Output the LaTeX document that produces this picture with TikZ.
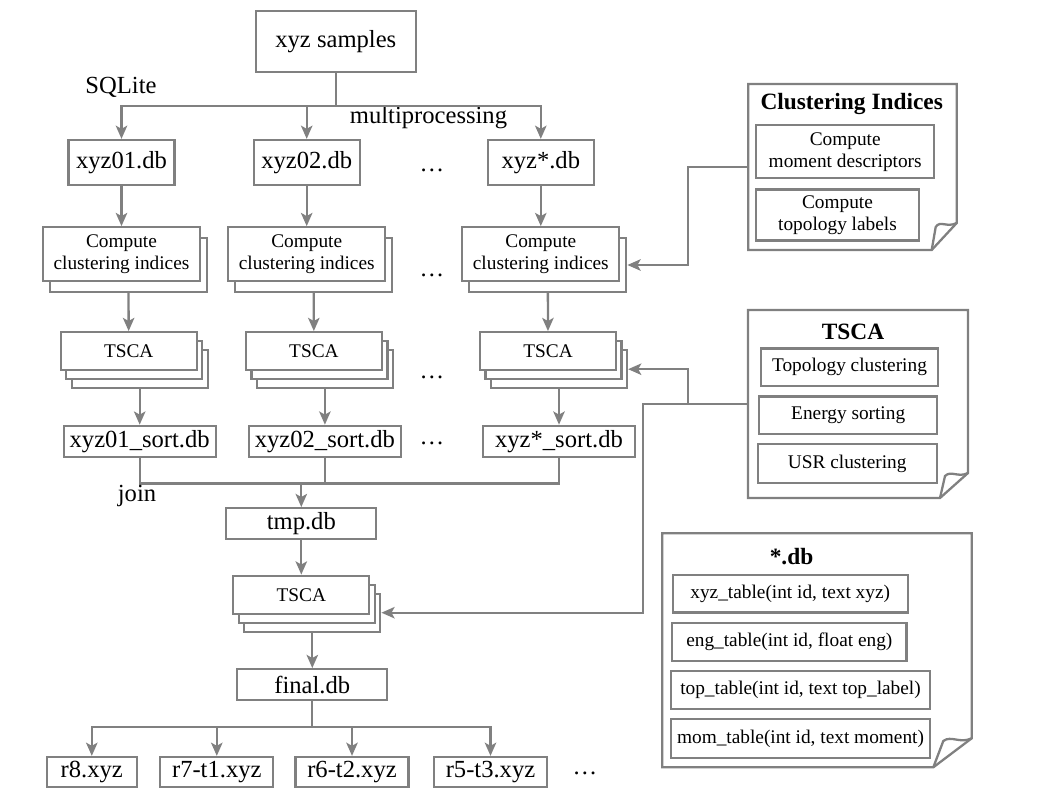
\documentclass[tikz,border=0pt]{standalone}
\usepackage{fontspec}
\setmainfont{Liberation Serif}
\usetikzlibrary{arrows.meta}
\definecolor{linegray}{RGB}{128,128,128}
\tikzset{
    box/.style={draw=linegray, line width=1.3pt, fill=white, inner sep=0pt, align=center, font=\fontsize{14}{16}\selectfont},
    smallbox/.style={box, font=\fontsize{11}{12.5}\selectfont},
    line/.style={draw=linegray, line width=1.3pt},
    arr/.style={line, -{Stealth[length=7.5pt,width=6.5pt,inset=1.8pt]}},
    lbl/.style={inner sep=0pt, font=\fontsize{14}{16}\selectfont},
    paneltitle/.style={inner sep=0pt, font=\fontsize{13.3}{15}\selectfont\bfseries}
}

\begin{document}
\begin{tikzpicture}[x=0.02cm,y=-0.02cm]
    \fill[white] (0,0) rectangle (1058,794);
    \useasboundingbox (0,0) rectangle (1058,794);

    % Input samples
    \node[box, minimum width=3.2cm, minimum height=1.22cm] (samples) at (335.8,41.2) {xyz samples};
    \coordinate (split) at (335.8,106);
    \node[lbl] (sqlite) at (121,87) {SQLite};
    \node[lbl] (multi) at (428.5,118) {multiprocessing};

    % Parallel columns
    \foreach \n/\x/\db/\srt in {1/121.5/xyz01.db/xyz01\_sort.db, 2/306.7/xyz02.db/xyz02\_sort.db, 3/540.8/xyz*.db/xyz*\_sort.db} {
        \node[box, minimum width=2.12cm, minimum height=0.9cm] (db\n) at (\x,162.5) {\db};
        \node[smallbox, minimum width=3.14cm, minimum height=1.07cm] (cb\n) at (\x+7,265) {};
        \node[smallbox, minimum width=3.14cm, minimum height=1.07cm] (cf\n) at (\x,254) {Compute\\clustering indices};
        \node[smallbox, minimum width=2.72cm, minimum height=0.76cm] (tb\n) at (\x+18.2,369.2) {};
        \node[smallbox, minimum width=2.72cm, minimum height=0.76cm] (tm\n) at (\x+12.7,360.2) {};
        \node[smallbox, minimum width=2.72cm, minimum height=0.76cm] (tf\n) at (\x+7.2,351.2) {TSCA};
        \node[box, minimum width=3.04cm, minimum height=0.62cm] (srt\n) at (\x+18.2,441.3) {\srt};
        \draw[arr] (split) -| (db\n);
        \draw[arr] (db\n) -- (cf\n);
        \draw[arr] (cb\n) -- (tf\n);
        \draw[arr] (tb\n) -- (srt\n);
    }
    \draw[line] (samples) -- (split);
    \foreach \y in {170,275,377,443} {
        \node[lbl] (dots\y) at (432,\y) {…};
    }

    % Join and final clustering
    \coordinate (join) at (301.3,483.5);
    \foreach \n in {1,2,3} {
        \draw[line] (srt\n) |- (join);
    }
    \node[lbl] (joinlbl) at (137,496) {join};
    \node[box, minimum width=3cm, minimum height=0.62cm] (tmp) at (301.3,523.7) {tmp.db};
    \node[smallbox, minimum width=2.72cm, minimum height=0.76cm] (t4b) at (312.3,612.7) {};
    \node[smallbox, minimum width=2.72cm, minimum height=0.76cm] (t4m) at (306.8,603.7) {};
    \node[smallbox, minimum width=2.72cm, minimum height=0.76cm] (t4f) at (301.3,594.7) {TSCA};
    \node[box, minimum width=3cm, minimum height=0.62cm] (final) at (312.3,684.7) {final.db};
    \draw[arr] (join) -- (tmp);
    \draw[arr] (tmp) -- (t4f);
    \draw[arr] (t4b) -- (final);

    % Output files
    \coordinate (fan) at (312.3,727);
    \node[box, minimum width=1.8cm, minimum height=0.6cm] (r8) at (91.8,772) {r8.xyz};
    \node[box, minimum width=2.26cm, minimum height=0.6cm] (r7) at (216.8,772) {r7-t1.xyz};
    \node[box, minimum width=2.26cm, minimum height=0.6cm] (r6) at (352,772) {r6-t2.xyz};
    \node[box, minimum width=2.26cm, minimum height=0.6cm] (r5) at (490.5,772) {r5-t3.xyz};
    \node[lbl] (dotsr) at (585,773) {…};
    \draw[line] (final) -- (fan);
    \foreach \r in {r8,r7,r6,r5} {
        \draw[arr] (fan) -| (\r);
    }

    % Clustering Indices panel
    \draw[line, fill=white] (748.3,84) -- (956.7,84) -- (956.7,223) -- (931.7,250) -- (748.3,250) -- cycle;
    \draw[line] (956.7,223) .. controls (947,228) and (940,220) .. (935.7,227) -- (931.7,250);
    \node[paneltitle] (cititle) at (851.7,104) {Clustering Indices};
    \node[smallbox, minimum width=3.56cm, minimum height=1.06cm] (cimom) at (845.2,151.7) {Compute\\moment descriptors};
    \node[smallbox, minimum width=3.26cm, minimum height=1.02cm] (citop) at (837.5,215) {Compute\\topology labels};

    % TSCA panel
    \draw[line, fill=white] (748,310) -- (968,310) -- (968,473) -- (940,498) -- (748,498) -- cycle;
    \draw[line] (968,473) .. controls (958,478) and (951,470) .. (945,476) -- (940,498);
    \node[paneltitle] (tstitle) at (853,331.7) {TSCA};
    \node[smallbox, minimum width=3.55cm, minimum height=0.75cm] (tstop) at (849.5,367.2) {Topology clustering};
    \node[smallbox, minimum width=3.56cm, minimum height=0.75cm] (tseng) at (848.2,415.3) {Energy sorting};
    \node[smallbox, minimum width=3.58cm, minimum height=0.77cm] (tsusr) at (847.2,463.5) {USR clustering};

    % *.db panel
    \draw[line, fill=white] (662.3,533.3) -- (971.7,533.3) -- (971.7,738.3) -- (933.3,767.3) -- (662.3,767.3) -- cycle;
    \draw[line] (971.7,738.3) .. controls (960,744) and (951,735) .. (943.3,741) -- (933.3,767.3);
    \node[paneltitle] (dbtitle) at (791.5,556.7) {*.db};
    \node[smallbox, minimum width=4.7cm, minimum height=0.75cm] (dbxyz) at (790.2,593.7) {xyz\_table(int id, text xyz)};
    \node[smallbox, minimum width=4.69cm, minimum height=0.75cm] (dbeng) at (789.3,642) {eng\_table(int id, float eng)};
    \node[smallbox, minimum width=5.18cm, minimum height=0.76cm] (dbtop) at (800.5,690) {top\_table(int id, text top\_label)};
    \node[smallbox, minimum width=5.18cm, minimum height=0.77cm] (dbmom) at (800.5,738.5) {mom\_table(int id, text moment)};

    % Panel connectors
    \coordinate (ciin) at (748.3,167);
    \coordinate (cibend) at (687.7,167);
    \coordinate (tsin) at (748,404);
    \coordinate (tsjoint) at (687.7,404);
    \coordinate (tsbend) at (642.7,404);
    \draw[arr] (ciin) -- (cibend) |- (cb3.east);
    \draw[arr] (tsin) -- (tsbend) |- (t4b.east);
    \draw[arr] (tsjoint) |- (tb3.east);
\end{tikzpicture}
\end{document}
